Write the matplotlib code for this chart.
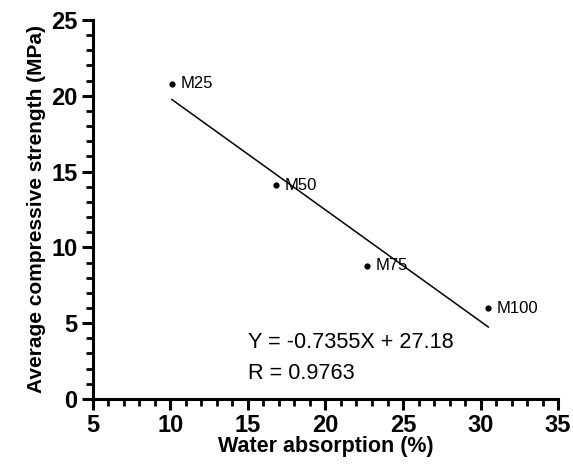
import matplotlib
matplotlib.use("Agg")
import matplotlib.pyplot as plt
from matplotlib.ticker import MultipleLocator
import numpy as np

plt.rcParams['font.family'] = ['Liberation Sans', 'DejaVu Sans']

labels = ["M25", "M50", "M75", "M100"]
absorption = [10.1, 16.8, 22.7, 30.5]
strength = [20.8, 14.1, 8.8, 6.0]
slope = -0.7355
intercept = 27.18
r_value = 0.9763

fig = plt.figure(figsize=(5.73, 4.65), dpi=100)
ax = fig.add_axes([0.162, 0.142, 0.812, 0.815])

ax.scatter(absorption, strength, s=12, color="black", zorder=3)
for x, y, lab in zip(absorption, strength, labels):
    ax.annotate(lab, (x, y), xytext=(6, 0), textcoords="offset points",
                va="center", ha="left", fontsize=12)

xf = np.array([min(absorption), max(absorption)])
ax.plot(xf, slope * xf + intercept, color="black", lw=1.1)

ax.text(15, 3.75, f"Y = {slope}X + {intercept}", fontsize=15.6, va="center")
ax.text(15, 1.7, f"R = {r_value}", fontsize=15.6, va="center")

ax.set_xlim(5, 35)
ax.set_ylim(0, 25)
ax.xaxis.set_major_locator(MultipleLocator(5))
ax.xaxis.set_minor_locator(MultipleLocator(1))
ax.yaxis.set_major_locator(MultipleLocator(5))
ax.yaxis.set_minor_locator(MultipleLocator(1))

for side in ["top", "right"]:
    ax.spines[side].set_visible(False)
for side in ["left", "bottom"]:
    ax.spines[side].set_linewidth(2.2)

ax.tick_params(which="major", length=8, width=2.2, labelsize=17, pad=3)
ax.tick_params(which="minor", length=5, width=2.0)
for t in ax.get_xticklabels() + ax.get_yticklabels():
    t.set_fontweight("bold")

ax.set_xlabel("Water absorption (%)", fontsize=15.5, fontweight="bold", labelpad=-1)
ax.set_ylabel("Average compressive strength (MPa)", fontsize=15, fontweight="bold", labelpad=4)

fig.savefig("out.png", dpi=100)
